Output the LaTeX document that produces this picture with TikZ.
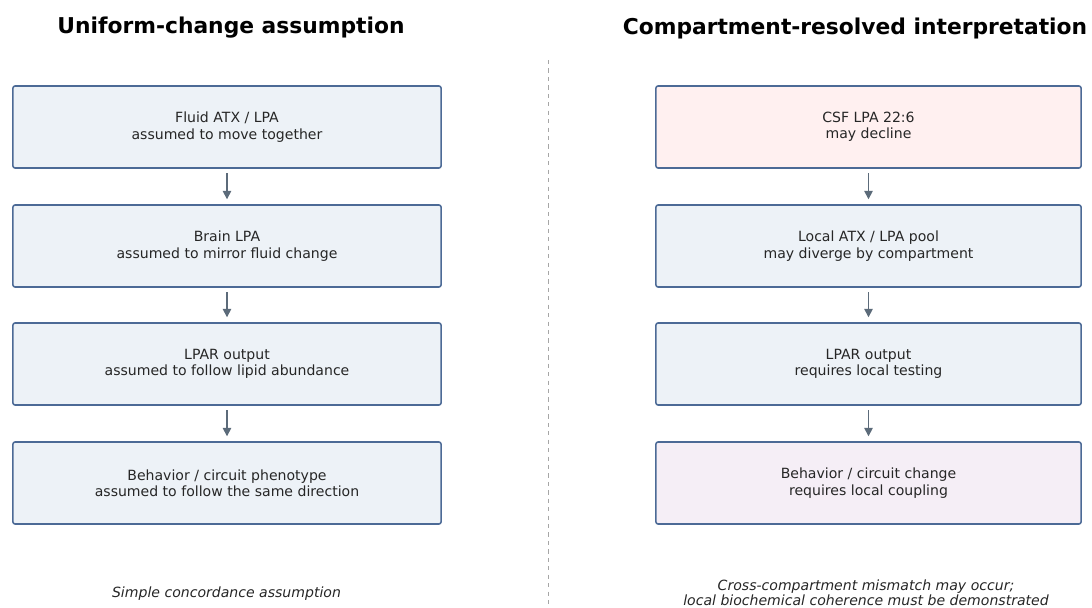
\documentclass[tikz,border=0pt]{standalone}
\usepackage{fontspec}
\setmainfont{DejaVu Sans}
\usetikzlibrary{arrows.meta}

\definecolor{boxline}{HTML}{4C6A96}
\definecolor{boxfill}{HTML}{EDF2F7}
\definecolor{pinkfill}{HTML}{FFF0F0}
\definecolor{lilacfill}{HTML}{F5EEF6}
\definecolor{arrowgray}{HTML}{5C6B7A}

\tikzset{
  stagebox/.style={draw=boxline, line width=1.1pt, fill=boxfill, rounded corners=1.5pt,
    minimum width=10.7cm, minimum height=2.05cm, align=center,
    font=\fontsize{10}{11.6}\selectfont, text=black!85},
  rightbox/.style={stagebox, minimum width=10.625cm},
  flowarrow/.style={-{Triangle[length=6pt,width=6pt]}, line width=1.1pt, color=arrowgray,
    shorten <=3pt, shorten >=3.5pt},
  paneltitle/.style={font=\fontsize{15.5}{18}\selectfont\bfseries},
  panelnote/.style={font=\fontsize{10}{10.8}\selectfont\itshape, align=center, text=black!85}
}

\begin{document}
\begin{tikzpicture}[x=0.025cm, y=-0.025cm]
	%%%%% START %%%%%
	\useasboundingbox (0, 0) rectangle (1092, 607);
	
	% titles
	\node[paneltitle] (lefttitle) at (231, 28) {Uniform-change assumption};
	\node[paneltitle] (righttitle) at (855, 28) {Compartment-resolved interpretation};
	
	% divider
	\draw[dashed, color=black!35, line width=0.5pt] (548, 60) -- (548, 607);
	
	% left column
	\node[stagebox] (fluid) at (227, 127) {Fluid ATX / LPA\\assumed to move together};
	\node[stagebox] (brain) at (227, 246) {Brain LPA\\assumed to mirror fluid change};
	\node[stagebox] (lparL) at (227, 364) {LPAR output\\assumed to follow lipid abundance};
	\node[stagebox] (behavL) at (227, 483) {Behavior / circuit phenotype\\assumed to follow the same direction};
	
	\draw[flowarrow] (fluid) -- (brain);
	\draw[flowarrow] (brain) -- (lparL);
	\draw[flowarrow] (lparL) -- (behavL);
	
	% right column
	\node[rightbox, fill=pinkfill] (csf) at (868.5, 127) {CSF LPA 22:6\\may decline};
	\node[rightbox] (pool) at (868.5, 246) {Local ATX / LPA pool\\may diverge by compartment};
	\node[rightbox] (lparR) at (868.5, 364) {LPAR output\\requires local testing};
	\node[rightbox, fill=lilacfill] (behavR) at (868.5, 483) {Behavior / circuit change\\requires local coupling};
	
	\draw[flowarrow] (csf) -- (pool);
	\draw[flowarrow] (pool) -- (lparR);
	\draw[flowarrow] (lparR) -- (behavR);
	
	% notes
	\node[panelnote] (leftnote) at (226.5, 594) {Simple concordance assumption};
	\node[panelnote] (rightnote) at (866, 592.5) {Cross-compartment mismatch may occur;\\local biochemical coherence must be demonstrated};
	
	%%%%% END %%%%%
\end{tikzpicture}
\end{document}
